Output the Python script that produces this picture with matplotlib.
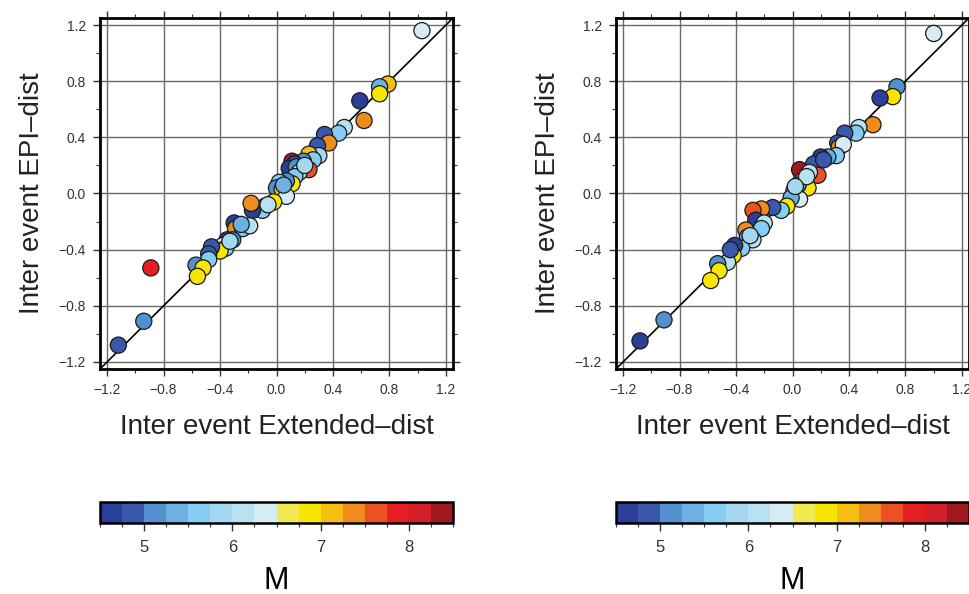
import numpy as np
import matplotlib
matplotlib.use("Agg")
import matplotlib.pyplot as plt
from matplotlib.colors import ListedColormap, BoundaryNorm
from matplotlib.ticker import MultipleLocator

plt.rcParams["font.family"] = ["Liberation Sans", "DejaVu Sans"]

# ── data ─────────────────────────────────────────────────────────────────
left_x = [1.03, 0.79, 0.73, 0.73, 0.59, 0.62, 0.48, 0.44, 0.34, 0.37, 0.29, 0.30,
          0.23, 0.26, 0.19, 0.23, 0.11, 0.13, 0.09, 0.14, 0.16, 0.13, 0.11, 0.07,
          0.02, 0.00, 0.04, 0.07, -0.02, -0.08, -0.10, -0.17, -0.18, -0.30, -0.29,
          -0.24, -0.19, -0.31, -0.35, -0.38, -0.36, -0.40, -0.46, -0.48, -0.48,
          -0.57, -0.52, -0.56, -0.89, -0.94, -1.12, -0.33, -0.25, 0.05, 0.20, -0.06]
left_y = [1.16, 0.78, 0.76, 0.71, 0.66, 0.52, 0.47, 0.43, 0.42, 0.36, 0.34, 0.27,
          0.28, 0.24, 0.23, 0.17, 0.23, 0.21, 0.18, 0.19, 0.15, 0.12, 0.07, 0.09,
          0.08, 0.04, 0.03, -0.02, -0.06, -0.09, -0.12, -0.12, -0.07, -0.21, -0.25,
          -0.25, -0.23, -0.33, -0.33, -0.37, -0.39, -0.41, -0.38, -0.43, -0.47,
          -0.51, -0.53, -0.59, -0.53, -0.91, -1.08, -0.34, -0.22, 0.06, 0.20, -0.08]
left_m = [6.4, 7.1, 5.4, 6.9, 4.6, 7.4, 6.1, 5.6, 4.85, 7.4, 4.85, 5.9,
          7.1, 5.6, 5.1, 7.6, 8.4, 4.85, 4.6, 5.1, 6.1, 5.6, 6.9, 5.1,
          5.6, 5.1, 7.1, 6.4, 6.9, 5.4, 5.6, 4.6, 7.4, 4.6, 7.4,
          5.6, 6.1, 5.1, 4.6, 6.4, 5.6, 6.9, 4.85, 4.85, 5.6,
          5.1, 6.9, 6.9, 7.9, 5.1, 4.85, 5.9, 5.4, 5.4, 5.9, 6.1]

right_x = [1.00, 0.74, 0.71, 0.62, 0.57, 0.47, 0.45, 0.37, 0.32, 0.33, 0.36, 0.31,
           0.25, 0.20, 0.15, 0.18, 0.05, 0.12, 0.07, 0.11, 0.04, 0.01, 0.05, -0.01,
           -0.04, -0.08, -0.14, -0.22, -0.28, -0.26, -0.20, -0.22, -0.33, -0.32,
           -0.28, -0.36, -0.41, -0.42, -0.46, -0.53, -0.52, -0.58, -0.91, -1.08,
           0.22, 0.10, -0.30, -0.44, 0.02]
right_y = [1.14, 0.76, 0.69, 0.68, 0.49, 0.47, 0.43, 0.43, 0.36, 0.33, 0.35, 0.27,
           0.26, 0.26, 0.21, 0.13, 0.17, 0.15, 0.09, 0.04, 0.06, 0.02, -0.04, -0.03,
           -0.09, -0.12, -0.10, -0.11, -0.12, -0.19, -0.21, -0.25, -0.26, -0.31,
           -0.33, -0.39, -0.37, -0.44, -0.49, -0.50, -0.55, -0.62, -0.90, -1.05,
           0.24, 0.12, -0.30, -0.40, 0.05]
right_m = [6.4, 5.1, 6.9, 4.6, 7.4, 6.1, 5.6, 4.85, 4.85, 7.4, 6.4, 5.6,
           5.4, 4.6, 4.85, 7.6, 8.4, 6.1, 5.6, 6.9, 5.1, 5.6, 6.4, 5.4,
           6.9, 5.6, 4.85, 7.4, 7.6, 4.6, 6.1, 5.6, 7.4, 5.1,
           6.1, 5.6, 4.6, 6.9, 6.1, 5.1, 6.9, 6.9, 5.1, 4.6,
           4.85, 6.1, 5.9, 4.85, 5.9]

m_levels = np.arange(4.5, 8.51, 0.25)
m_colors = ["#2B3F99", "#3A58AA", "#5490CF", "#6DB0E2", "#85CDF2", "#A3D8F0",
            "#B8E2F2", "#D6ECF3", "#F0EA50", "#F9E600", "#F9BE14", "#F08C1E",
            "#EB5123", "#E51E23", "#D41E28", "#A0191E"]

tick_vals = np.arange(-1.2, 1.21, 0.4)
tick_text = [f"{v:.1f}".replace("-", "\u2212") for v in tick_vals]

cmap = ListedColormap(m_colors)
norm = BoundaryNorm(m_levels, cmap.N)

fig = plt.figure(figsize=(9.69, 5.94), dpi=100)

W, H = 969.0, 594.0
panels = [
    (100, left_x, left_y, left_m),
    (616, right_x, right_y, right_m),
]

for x0, xs, ys, ms in panels:
    ax = fig.add_axes([x0 / W, 1 - 369 / H, 353 / W, 351 / H])
    ax.set_xlim(-1.25, 1.25)
    ax.set_ylim(-1.25, 1.25)
    ax.xaxis.set_minor_locator(MultipleLocator(0.2))
    ax.yaxis.set_minor_locator(MultipleLocator(0.2))
    ax.set_xticks(tick_vals)
    ax.set_yticks(tick_vals)
    ax.set_xticklabels(tick_text)
    ax.set_yticklabels(tick_text)
    ax.grid(True, which="major", color="#6a6a6a", lw=1.0)
    ax.set_axisbelow(True)
    ax.plot([-1.25, 1.25], [-1.25, 1.25], color="black", lw=1.2, zorder=2)
    ax.scatter(xs, ys, c=ms, cmap=cmap, norm=norm, s=135,
               edgecolors="#1a1a1a", linewidths=0.9, zorder=3)
    ax.tick_params(which="both", direction="out", top=True, right=True,
                   color="#333333", labelsize=10, labelcolor="#333333")
    ax.tick_params(which="major", length=5, width=1, pad=5)
    ax.tick_params(which="minor", length=3, width=0.8)
    for sp in ax.spines.values():
        sp.set_linewidth(2)
    ax.set_xlabel("Inter event Extended\u2013dist", fontsize=20, labelpad=12, color="#222222")
    ax.set_ylabel("Inter event EPI\u2013dist", fontsize=20, labelpad=10, color="#222222")

    cax = fig.add_axes([x0 / W, 1 - 523 / H, 353 / W, 21 / H])
    cb = fig.colorbar(plt.cm.ScalarMappable(norm=norm, cmap=cmap), cax=cax,
                      orientation="horizontal", ticks=[5, 6, 7, 8])
    cb.outline.set_linewidth(1.8)
    cax.xaxis.set_minor_locator(MultipleLocator(0.25))
    cax.tick_params(which="major", length=6, width=1, labelsize=12,
                    color="#333333", labelcolor="#333333", pad=6)
    cax.tick_params(which="minor", length=3, width=0.8, color="#333333")
    cb.set_label("M", fontsize=22, labelpad=8)

fig.savefig("out.png", dpi=100)
